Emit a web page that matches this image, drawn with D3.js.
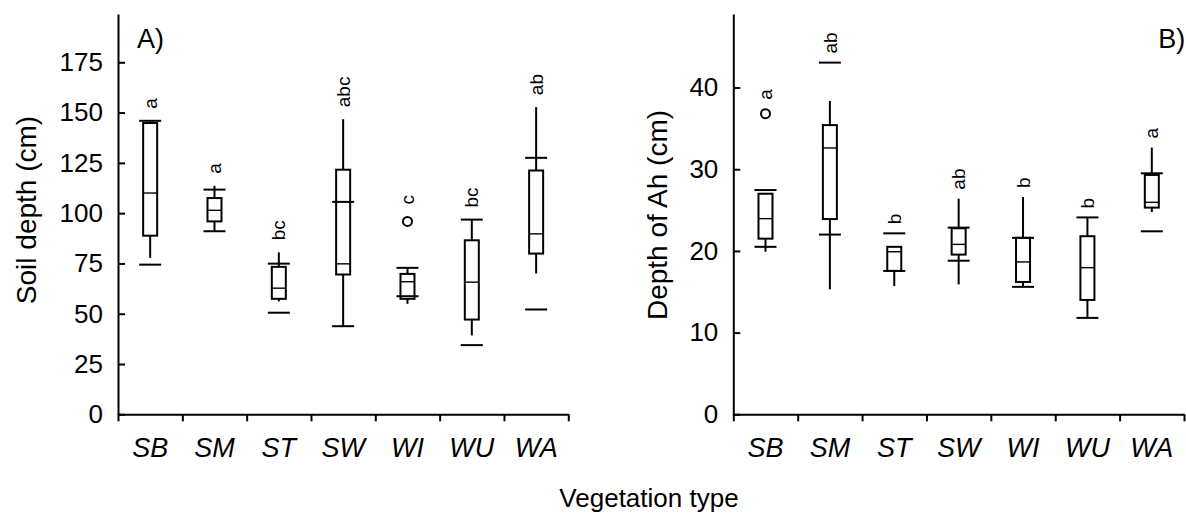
<!DOCTYPE html>
<html lang="en">
  <head>
    <meta charset="UTF-8" />
    <title>Soil depth / Ah depth by vegetation type</title>
    <style>
      body { margin: 0; background: #fff; }
      svg { display: block; font-family: "Liberation Sans", Arial, sans-serif; }
    </style>
  </head>
  <body>
    <div class="chart"></div>
    <script src="https://d3js.org/d3.v7.min.js"></script>
    <script>
      const categories = ["SB", "SM", "ST", "SW", "WI", "WU", "WA"];

      // panel A: soil depth (cm)
      const soilQ1 = [88.8, 95.9, 57.4, 69.5, 57.4, 47.1, 79.9];
      const soilMedian = [110, 101.4, 62.7, 74.8, 65.9, 65.7, 89.7];
      const soilQ3 = [144.8, 107.5, 73.3, 121.6, 69.8, 86.5, 121.2];
      const soilWhiskerLow = [77.8, 91, 56.1, 43.8, 54.9, 39.2, 70];
      const soilWhiskerHigh = [145.9, 113.6, 80.5, 146.7, 72.8, 96.8, 152.7];
      const soilMarks = [[145.9, 74.4], [111.7, 91], [74.9, 50.5], [105.6, 43.8], [72.8, 58.7], [96.8, 34.4], [127.5, 52.1]];
      const soilOutliers = [[], [], [], [], [95.9], [], []];
      const soilLetters = ["a", "a", "bc", "abc", "c", "bc", "ab"];
      const soilTicks = [0, 25, 50, 75, 100, 125, 150, 175];

      // panel B: depth of Ah (cm)
      const ahQ1 = [21.5, 23.9, 17.55, 19.55, 16.2, 14.0, 25.3];
      const ahMedian = [23.95, 32.6, 19.9, 20.8, 18.65, 17.95, 25.95];
      const ahQ3 = [27.0, 35.4, 20.5, 22.77, 21.6, 21.8, 29.3];
      const ahWhiskerLow = [19.9, 15.3, 15.7, 15.9, 15.6, 11.8, 24.76];
      const ahWhiskerHigh = [27.0, 38.35, 20.5, 26.4, 26.6, 24.1, 32.65];
      const ahMarks = [[27.45, 20.5], [22.0, 43.05], [22.15, 17.55], [22.85, 18.8], [21.6, 15.6], [24.1, 11.8], [29.5, 22.4]];
      const ahOutliers = [[36.8], [], [], [], [], [], []];
      const ahLetters = ["a", "ab", "b", "ab", "b", "b", "a"];
      const ahTicks = [0, 10, 20, 30, 40];

      const width = 1186;
      const height = 517;

      const svg = d3
        .select(".chart")
        .append("svg")
        .attr("width", width)
        .attr("height", height);

      function drawPanel(opt) {
        const w = opt.x1 - opt.x0;
        const g = svg.append("g").attr("transform", `translate(${opt.x0},0)`);

        const y = d3.scaleLinear().domain([0, opt.yMax]).range([414.3, 14]);
        const xBand = d3.scaleBand().domain(categories).range([0, w]);
        const xEdge = d3.scaleLinear().domain([0, categories.length]).range([0, w]);

        // y axis, ticks pointing inward
        const yAxis = g
          .append("g")
          .call(
            d3.axisLeft(y).tickValues(opt.ticks).tickSize(-7).tickSizeOuter(0).tickPadding(15)
          );
        yAxis.selectAll("path, line").attr("stroke-width", 2);
        yAxis.selectAll("text").attr("font-size", 26).attr("fill", "#000");
        yAxis.attr("font-family", null);

        // x axis: boundary ticks
        const xAxis = g
          .append("g")
          .attr("transform", "translate(0,414.3)")
          .call(
            d3.axisBottom(xEdge).ticks(categories.length).tickSize(7).tickSizeOuter(0).tickFormat("")
          );
        xAxis.selectAll("path, line").attr("stroke-width", 2);

        // category labels
        const xLab = g
          .append("g")
          .attr("transform", "translate(0,414.3)")
          .call(d3.axisBottom(xBand).tickSize(0).tickPadding(24));
        xLab.select(".domain").remove();
        xLab.attr("font-family", null);
        xLab.selectAll("text").attr("font-size", 27).attr("font-style", "italic").attr("fill", "#000");

        const rows = categories.map((c, i) => ({
          c: c,
          q1: opt.q1[i],
          med: opt.med[i],
          q3: opt.q3[i],
          lo: opt.lo[i],
          hi: opt.hi[i],
          marks: opt.marks[i],
          out: opt.out[i],
          letter: opt.letters[i],
        }));

        const box = g
          .append("g")
          .selectAll("g")
          .data(rows)
          .join("g")
          .attr("transform", (d) => `translate(${xBand(d.c) + xBand.bandwidth() / 2},0)`);

        // whiskers
        box
          .append("line")
          .attr("y1", (d) => y(d.lo))
          .attr("y2", (d) => y(d.hi))
          .attr("stroke", "#000")
          .attr("stroke-width", 2);

        // box
        box
          .append("rect")
          .attr("x", -7)
          .attr("width", 14)
          .attr("y", (d) => y(d.q3))
          .attr("height", (d) => y(d.q1) - y(d.q3))
          .attr("fill", "#fff")
          .attr("stroke", "#000")
          .attr("stroke-width", 2);

        // median
        box
          .append("line")
          .attr("x1", -7)
          .attr("x2", 7)
          .attr("y1", (d) => y(d.med))
          .attr("y2", (d) => y(d.med))
          .attr("stroke", "#000")
          .attr("stroke-width", 1.4);

        // wide horizontal marks
        box
          .selectAll(".mark")
          .data((d) => d.marks)
          .join("line")
          .attr("class", "mark")
          .attr("x1", -11)
          .attr("x2", 11)
          .attr("y1", (d) => y(d))
          .attr("y2", (d) => y(d))
          .attr("stroke", "#000")
          .attr("stroke-width", 2);

        // outliers
        box
          .selectAll(".out")
          .data((d) => d.out)
          .join("circle")
          .attr("class", "out")
          .attr("r", 4.5)
          .attr("cy", (d) => y(d))
          .attr("fill", "none")
          .attr("stroke", "#000")
          .attr("stroke-width", 2);

        // significance letters, rotated
        box
          .append("text")
          .attr("transform", (d) => {
            const top = Math.min(
              y(d.hi),
              y(d.q3),
              ...d.marks.map((m) => y(m)),
              ...d.out.map((o) => y(o) - 5)
            );
            return `translate(0,${top - opt.gap}) rotate(-90)`;
          })
          .attr("dy", "0.35em")
          .attr("font-size", 19)
          .attr("fill", "#000")
          .text((d) => d.letter);

        // axis title
        g.append("text")
          .attr("transform", `translate(${opt.titleX},${opt.titleY}) rotate(-90)`)
          .attr("text-anchor", "middle")
          .attr("font-size", 28)
          .text(opt.title);

        // panel tag
        g.append("text")
          .attr("x", opt.tagX)
          .attr("y", 48)
          .attr("text-anchor", opt.tagAnchor)
          .attr("font-size", 27)
          .text(opt.tag);
      }

      drawPanel({
        x0: 118,
        x1: 568.3,
        yMax: 199,
        ticks: soilTicks,
        q1: soilQ1,
        med: soilMedian,
        q3: soilQ3,
        lo: soilWhiskerLow,
        hi: soilWhiskerHigh,
        marks: soilMarks,
        out: soilOutliers,
        letters: soilLetters,
        gap: 12,
        title: "Soil depth (cm)",
        titleX: -82,
        titleY: 210,
        tag: "A)",
        tagX: 19,
        tagAnchor: "start",
      });

      drawPanel({
        x0: 733.3,
        x1: 1184,
        yMax: 49,
        ticks: ahTicks,
        q1: ahQ1,
        med: ahMedian,
        q3: ahQ3,
        lo: ahWhiskerLow,
        hi: ahWhiskerHigh,
        marks: ahMarks,
        out: ahOutliers,
        letters: ahLetters,
        gap: 9,
        title: "Depth of Ah (cm)",
        titleX: -66,
        titleY: 215,
        tag: "B)",
        tagX: 452,
        tagAnchor: "end",
      });

      // shared x title
      svg
        .append("text")
        .attr("x", 649)
        .attr("y", 507)
        .attr("text-anchor", "middle")
        .attr("font-size", 26)
        .text("Vegetation type");
    </script>
  </body>
</html>
